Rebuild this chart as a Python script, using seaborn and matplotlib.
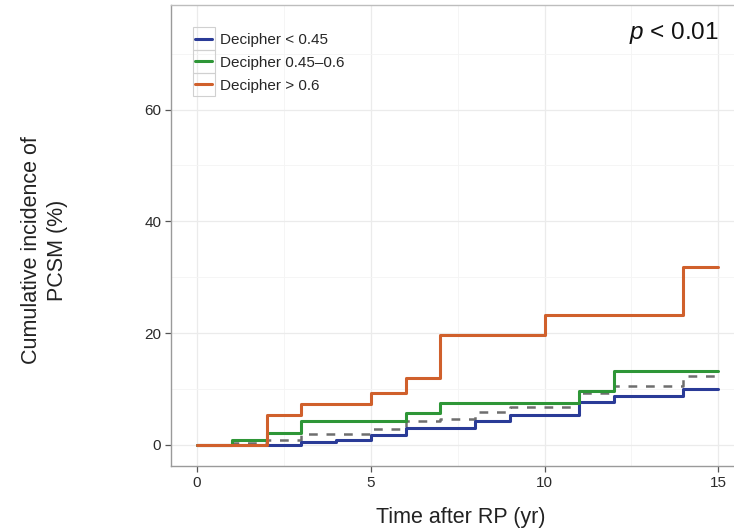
import numpy as np
import pandas as pd
import seaborn as sns
import matplotlib.pyplot as plt
from matplotlib.patches import Rectangle
from matplotlib.ticker import MultipleLocator

# Courbes d'incidence cumulée (temps en années, valeurs en %)
t_low = [0, 3, 4, 5, 6, 8, 9, 11, 12, 14, 15]
y_low = [0, 0.6, 0.8, 1.8, 3.1, 4.2, 5.4, 7.6, 8.8, 10.0, 10.0]

t_mid = [0, 1, 2, 3, 6, 7, 11, 12, 15]
y_mid = [0, 0.9, 2.2, 4.3, 5.7, 7.5, 9.6, 13.3, 13.3]

t_high = [0, 2, 3, 5, 6, 7, 10, 14, 15]
y_high = [0, 5.4, 7.4, 9.3, 11.9, 19.6, 23.3, 31.8, 31.8]

t_all = [0, 1, 2, 3, 5, 6, 7, 8, 9, 11, 12, 14, 15]
y_all = [0, 0.3, 0.8, 2.0, 2.9, 4.2, 4.6, 5.9, 6.7, 9.3, 10.6, 12.4, 12.4]

groups = ["Decipher < 0.45", "Decipher 0.45\u20130.6", "Decipher > 0.6"]
colors = ["#2A3B97", "#2E9637", "#D0602C"]

df = pd.concat([
    pd.DataFrame({"t": t_low, "y": y_low, "grp": groups[0]}),
    pd.DataFrame({"t": t_mid, "y": y_mid, "grp": groups[1]}),
    pd.DataFrame({"t": t_high, "y": y_high, "grp": groups[2]}),
])
df_all = pd.DataFrame({"t": t_all, "y": y_all})

sns.set_style("white")
plt.rcParams["font.family"] = ["Liberation Sans", "DejaVu Sans"]
plt.rcParams["mathtext.fontset"] = "custom"
plt.rcParams["mathtext.it"] = "Liberation Sans:italic"
plt.rcParams["mathtext.rm"] = "Liberation Sans"

fig = plt.figure(figsize=(7.34, 5.30), dpi=100)
ax = fig.add_axes([0.233, 0.121, 0.781, 0.870])

# ligne globale en pointillés (sous les courbes colorées)
sns.lineplot(data=df_all, x="t", y="y", ax=ax, color="#6E6E6E", lw=1.8,
             linestyle=(0, (3.5, 3.5)), drawstyle="steps-post",
             estimator=None, legend=False, zorder=2)
sns.lineplot(data=df, x="t", y="y", hue="grp", hue_order=groups,
             palette=colors, ax=ax, lw=2.2, drawstyle="steps-post",
             estimator=None, zorder=3)

ax.set_xlim(-0.75, 15.75)
ax.set_ylim(-3.75, 78.75)
ax.xaxis.set_major_locator(MultipleLocator(5))
ax.xaxis.set_minor_locator(MultipleLocator(2.5))
ax.yaxis.set_minor_locator(MultipleLocator(10))
ax.set_yticks([0, 20, 40, 60])
ax.grid(which="major", color="#EBEBEB", lw=0.9)
ax.grid(which="minor", color="#F4F4F4", lw=0.6)
ax.set_axisbelow(True)

for s in ax.spines.values():
    s.set_color("#BDBDBD")
    s.set_linewidth(1.0)
ax.spines["left"].set_color("#9A9A9A")
ax.spines["bottom"].set_color("#9A9A9A")

ax.tick_params(which="major", direction="out", length=4, width=0.9,
               color="#555555", labelsize=11, labelcolor="#2B2B2B", pad=3)
ax.tick_params(which="minor", length=0)
ax.tick_params(axis="x", bottom=True)
ax.tick_params(axis="y", left=True)

ax.set_xlabel("Time after RP (yr)", fontsize=15.5, color="#222222")
ax.xaxis.set_label_coords(0.506, -0.089)
ax.set_ylabel("Cumulative incidence of\nPCSM (%)", fontsize=15.5,
              color="#222222", linespacing=1.3)
ax.yaxis.set_label_coords(-0.18, 0.468)

ax.text(0.955, 0.967, r"$p$ < 0.01", transform=ax.transAxes, ha="right",
        va="top", fontsize=17.5, color="#111111")

leg = ax.legend(loc="upper left", bbox_to_anchor=(0.042, 0.939), frameon=False,
                fontsize=11, handlelength=1.1, handletextpad=0.5,
                labelspacing=0.58, borderaxespad=0.0, borderpad=0.0,
                title=None)
for line in leg.get_lines():
    line.set_linewidth(2.2)

# cadres gris des clés de légende (style ggplot)
fig.canvas.draw()
W, H = fig.get_size_inches() * fig.dpi
for line in leg.get_lines():
    bb = line.get_window_extent()
    cx, cy = (bb.x0 + bb.x1) / 2, (bb.y0 + bb.y1) / 2
    fig.add_artist(Rectangle(((cx - 11) / W, (cy - 11.5) / H), 22 / W, 23 / H,
                             transform=fig.transFigure, fill=False,
                             ec="#D0D0D0", lw=0.8, zorder=4))

fig.savefig("out.png", dpi=100)
